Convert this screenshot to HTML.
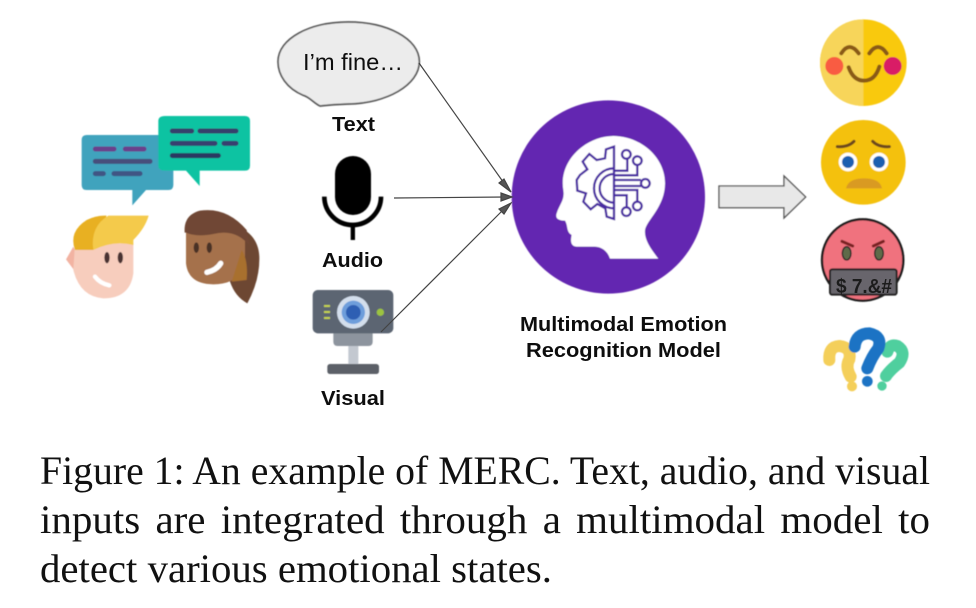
<!DOCTYPE html>
<html><head><meta charset="utf-8">
<style>
html,body{margin:0;padding:0;background:#fff;width:976px;height:608px;overflow:hidden}
svg{position:absolute;left:0;top:0}
.sans{font-family:"Liberation Sans",sans-serif}
.cap{font-family:"Liberation Serif",serif;font-size:40.5px;fill:#111}
</style></head><body>
<svg width="976" height="608" viewBox="0 0 976 608">
<defs>
<filter id="b" x="-5%" y="-5%" width="110%" height="110%"><feGaussianBlur stdDeviation="0.5"/></filter>
<filter id="t" x="-5%" y="-5%" width="110%" height="110%"><feGaussianBlur stdDeviation="0.3"/></filter>
</defs>
<g filter="url(#b)">
<!-- people -->
<g transform="translate(50,100) scale(.33333)">
<path d="M110 105H355Q370 105 370 120V255Q370 270 355 270H288L247 316V270H110Q95 270 95 255V120Q95 105 110 105Z" fill="#3fa3bd"/>
<g stroke-linecap="round" stroke-width="15" fill="none">
<path d="M136 147H192M226 147H282" stroke="#6a3f8c"/>
<path d="M136 184H300" stroke="#46507c"/>
<path d="M136 221H160M192 221H270" stroke="#3f5584"/>
</g>
<path d="M345 48H585Q600 48 600 63V197Q600 212 585 212H449V258L408 212H345Q325 212 325 197V63Q325 48 345 48Z" fill="#0cc3a2"/>
<g stroke-linecap="round" stroke-width="15" fill="none">
<path d="M367 93H425M450 93H558" stroke="#34406c"/>
<path d="M367 130H495M522 130H558" stroke="#38406f"/>
<path d="M367 167H505" stroke="#2a3862"/>
</g>
<!-- blond -->
<path d="M70 440L48 478L72 510L100 505Z" fill="#f2b3a2"/>
<path d="M75 430H250V520Q240 595 160 595Q90 590 70 510Z" fill="#f7cdbd"/>
<path d="M75 450Q55 395 110 360Q140 345 170 347L130 450Z" fill="#e8b022"/>
<path d="M130 450Q120 380 175 347H296Q285 385 250 420V435Q190 420 130 450Z" fill="#f4ca4c"/>
<ellipse cx="171" cy="473" rx="8" ry="17" fill="#4a3232"/>
<ellipse cx="211" cy="473" rx="8" ry="17" fill="#4a3232"/>
<path d="M135 530Q150 550 178 556" stroke="#fff" stroke-width="13" fill="none" stroke-linecap="round"/>
<!-- woman -->
<path d="M540 370Q625 395 628 470Q630 540 592 610Q555 590 540 545Z" fill="#6d4632"/>
<path d="M408 390H585V470Q580 553 490 553Q415 553 408 490Z" fill="#a5714b"/>
<path d="M575 450Q595 480 590 540L545 545Z" fill="#a8702f"/>
<path d="M404 398Q400 345 450 332Q530 320 590 390L600 440Q560 385 490 402Q440 412 408 398Z" fill="#6f4734"/>
<ellipse cx="439" cy="443" rx="8" ry="16" fill="#4a3028"/>
<ellipse cx="478" cy="443" rx="8" ry="16" fill="#4a3028"/>
<path d="M471 517Q500 510 512 490" stroke="#fff" stroke-width="16" fill="none" stroke-linecap="round"/>
</g>
<!-- inputs -->
<g transform="translate(270,10) scale(.33333)">
<path d="M150 288C130 278 120 262 100 256C50 235 24 195 24 155C24 85 120 36 235 36C350 36 448 85 448 155C448 225 350 280 235 282C205 283 175 285 150 288Z" fill="#ececec" stroke="#555" stroke-width="5"/>
<rect x="195" y="438" width="108" height="177" rx="54" fill="#000"/>
<path d="M163 560A85 85 0 0 0 333 560" fill="none" stroke="#000" stroke-width="14"/>
<rect x="242" y="640" width="13" height="50" fill="#000"/>
<rect x="235" y="1008" width="30" height="60" fill="#c3c8d0"/>
<path d="M190 965H308V995Q308 1008 295 1008H203Q190 1008 190 995Z" fill="#8d949e"/>
<rect x="128" y="840" width="242" height="130" rx="16" fill="#5c6572"/>
<rect x="172" y="1062" width="155" height="30" rx="8" fill="#5b6068"/>
<circle cx="250" cy="907" r="49" fill="#d3deec"/>
<circle cx="250" cy="907" r="35" fill="#6e9edb"/>
<circle cx="250" cy="907" r="22" fill="#2f5fb3"/>
<circle cx="331" cy="907" r="11" fill="#9cc341"/>
<path d="M162 888H180M162 906H180M162 924H180" stroke="#c3d24e" stroke-width="6"/>
</g>
<!-- head -->
<g transform="translate(500,100) scale(.33333)">
<circle cx="325" cy="291" r="290" fill="#6427b1"/>
<path d="M340 108C420 108 495 170 495 250C495 320 440 360 435 390C432 420 455 450 475 476H330C322 450 300 438 280 440H230C210 438 212 420 215 405C198 395 205 378 195 362C175 362 165 355 170 340C180 310 195 300 190 270C175 180 260 108 340 108Z" fill="#fff"/>
<g fill="none" stroke="#4a2ba2" stroke-width="7">
<path d="M342 140L318 148L315 175L290 180L268 162L248 185L262 208L240 225L230 240L232 272L258 280L250 305L272 328L292 312L316 325L320 350L342 357Z"/>
<path d="M342 205A60 60 0 0 0 342 325M342 222A42 42 0 0 0 342 308"/>
<path d="M342 212H382V177M342 226H412V196M342 240H423M342 258H423M342 270H412V305M342 286H380V322"/>
<circle cx="379" cy="163" r="13"/><circle cx="412" cy="182" r="13"/><circle cx="436" cy="250" r="13"/><circle cx="412" cy="318" r="13"/><circle cx="379" cy="335" r="13"/>
</g>
<path d="M657 258H852V228L917 291L852 354V323H657Z" fill="#e8e8e8" stroke="#555" stroke-width="4"/>
</g>
<!-- emojis -->
<g transform="translate(810,10) scale(.33333)">
<circle cx="160" cy="158" r="130" fill="#f9c90f"/>
<path d="M160 28A130 130 0 0 0 160 288Z" fill="#f7d55a"/>
<circle cx="73" cy="168" r="27" fill="#f95c42"/>
<circle cx="248" cy="168" r="27" fill="#d91c66"/>
<g fill="none" stroke="#8a5a14" stroke-width="12" stroke-linecap="round">
<path d="M94 130Q118 92 146 130M178 130Q204 92 230 130"/>
<path d="M116 172Q130 212 162 212Q195 212 208 170"/>
</g>
<circle cx="160" cy="457" r="127" fill="#f4c10f"/>
<g fill="none" stroke="#6e4a1e" stroke-width="9" stroke-linecap="round">
<path d="M82 410Q115 412 132 394M188 394Q205 412 238 410"/>
</g>
<circle cx="114" cy="456" r="28" fill="#fff"/><circle cx="114" cy="456" r="18" fill="#1f5fb0"/>
<circle cx="207" cy="456" r="28" fill="#fff"/><circle cx="207" cy="456" r="18" fill="#1f5fb0"/>
<path d="M108 535Q115 505 162 505Q210 505 216 535Z" fill="#d99a20"/>
</g>
<g transform="translate(810,210) scale(.33333)">
<circle cx="158" cy="150" r="122" fill="#f0727e" stroke="#1a1a1a" stroke-width="7"/>
<path d="M96 94L128 108M220 94L190 108" stroke="#7a2020" stroke-width="9" stroke-linecap="round"/>
<ellipse cx="110" cy="130" rx="13" ry="20" fill="#5f6a4a" stroke="#222" stroke-width="4"/>
<ellipse cx="207" cy="130" rx="13" ry="20" fill="#5f6a4a" stroke="#222" stroke-width="4"/>
<rect x="60" y="178" width="200" height="76" rx="7" fill="#68656c" stroke="#222" stroke-width="6"/>
<g fill="none" stroke-linecap="round" stroke-width="36">
<path d="M58 450Q55 410 88 408Q125 412 118 448Q105 470 122 500" stroke="#f4cf5a"/>
<path d="M232 425Q240 400 262 408Q290 425 268 458Q240 480 228 498" stroke="#4fcf9e"/>
<path d="M134 410Q138 370 178 370Q218 378 205 415Q185 440 172 475" stroke="#1b73c4"/>
</g>
<circle cx="126" cy="529" r="15" fill="#f4cf5a"/>
<circle cx="172" cy="514" r="16" fill="#1b73c4"/>
<circle cx="216" cy="528" r="14" fill="#4fcf9e"/>
</g>
</g>
<!-- connectors -->
<g stroke="#444" stroke-width="1.2" fill="#555">
<line x1="419" y1="63" x2="506" y2="186"/>
<line x1="394" y1="198" x2="506" y2="197"/>
<line x1="381" y1="332" x2="506" y2="207"/>
<path d="M511 192L499 183L504 179Z"/>
<path d="M512 197L501 193L501 201Z"/>
<path d="M511 203L499 209L504 214Z"/>
</g>
<g class="sans" fill="#111" filter="url(#t)">
<text x="303" y="70" font-size="23" textLength="100" lengthAdjust="spacingAndGlyphs">I’m fine…</text>
<g font-weight="bold" font-size="20">
<text x="332" y="131" textLength="43" lengthAdjust="spacingAndGlyphs">Text</text>
<text x="322" y="267" textLength="61" lengthAdjust="spacingAndGlyphs">Audio</text>
<text x="321" y="405" textLength="64" lengthAdjust="spacingAndGlyphs">Visual</text>
<text x="520" y="331" textLength="207" lengthAdjust="spacingAndGlyphs">Multimodal Emotion</text>
<text x="526" y="357" textLength="195" lengthAdjust="spacingAndGlyphs">Recognition Model</text>
<text x="836" y="293" font-size="20" fill="#1a1a1a" textLength="56" lengthAdjust="spacingAndGlyphs">$ 7.&amp;#</text>
</g>
</g>
<g class="cap">
<text x="40" y="484" textLength="890" lengthAdjust="spacingAndGlyphs">Figure 1: An example of MERC. Text, audio, and visual</text>
<text x="40" y="533" textLength="890" lengthAdjust="spacingAndGlyphs" style="word-spacing:5px">inputs are integrated through a multimodal model to</text>
<text x="40" y="582" textLength="512" lengthAdjust="spacingAndGlyphs">detect various emotional states.</text>
</g>
</svg>
</body></html>
